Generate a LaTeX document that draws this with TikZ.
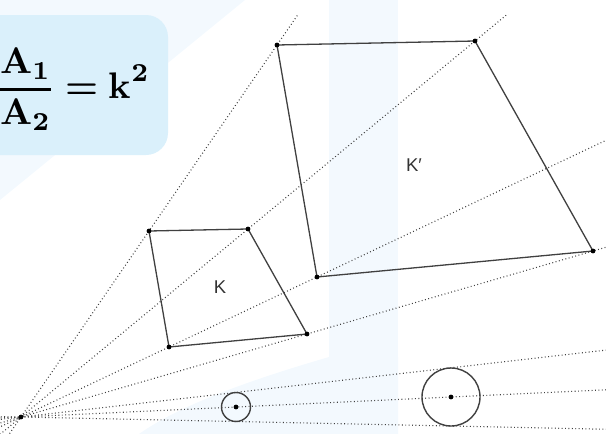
\documentclass[tikz,border=0pt]{standalone}
\usepackage{amsmath}
\usepackage{fontspec}
\newfontfamily\labelfont{Liberation Sans}
\usetikzlibrary{calc}
\definecolor{boxblue}{RGB}{218,240,251}
\definecolor{wmblue}{RGB}{243,249,254}

\begin{document}
\begin{tikzpicture}[x=1pt, y=-1pt,
  ray/.style={draw=black!75, line width=1.1pt, dash pattern=on 0.9pt off 2.5pt},
  side/.style={draw=black!75, line width=1.3pt},
  dot/.style={circle, fill=black, inner sep=0pt, minimum size=4.8pt},
  circ/.style={circle, draw=black!75, line width=1.4pt, inner sep=0pt, outer sep=0pt},
  lbl/.style={font=\labelfont, scale=1.85, text=black!80}]
  \useasboundingbox (0,0) rectangle (606,434);
  % watermark
  \fill[wmblue] (0,0) -- (245,0) -- (0,200) -- cycle;
  \fill[wmblue] (329,0) rectangle (398,434);
  \fill[wmblue] (329,357) .. controls (250,380) and (180,405) .. (139,434) -- (398,434) -- (398,357) -- cycle;
  % formula
  \fill[boxblue, rounded corners=22pt] (-30,15) rectangle (168,155);
  \node (ratio) at (-5,89) [anchor=west, inner sep=0pt, scale=3.7] {$\genfrac{}{}{0.75pt}{0}{\textbf{A}_{\textbf{1}}}{\textbf{A}_{\textbf{2}}}\;\textbf{=}\;\textbf{k}^{\textbf{2}}$};
  % centre, K and circle
  \coordinate (O) at (21,417);
  \coordinate (a) at (149,231);
  \coordinate (b) at (248,229);
  \coordinate (c) at (307,334);
  \coordinate (d) at (169,347);
  \foreach \p in {a,b,c,d} \coordinate (\p2) at ($(O)!2!(\p)$);
  \node[circ, minimum size=29pt] (s1) at (236,407) {};
  \node[circ, minimum size=58pt] (s2) at ($(O)!2!(s1)$) {};
  \coordinate (t1) at (tangent cs:node=s1,point={(O)},solution=1);
  \coordinate (t2) at (tangent cs:node=s1,point={(O)},solution=2);
  % rays
  \begin{scope}
    \clip (0,14) rectangle (606,434);
    \foreach \p in {a,b,c,d,s1,t1,t2}
      \draw[ray] ($(O)!-0.3!(\p)$) -- ($(O)!4.2!(\p)$);
  \end{scope}
  % shapes
  \draw[side] (a) -- (b) -- (c) -- (d) -- cycle;
  \draw[side] (a2) -- (b2) -- (c2) -- (d2) -- cycle;
  \foreach \p in {O,a,b,c,d,a2,b2,c2,d2,s1,s2} \node[dot] at (\p) {};
  \node[lbl] (k) at (220,287) {K};
  \node[lbl] (k2) at (414,165) {K′};
\end{tikzpicture}
\end{document}
